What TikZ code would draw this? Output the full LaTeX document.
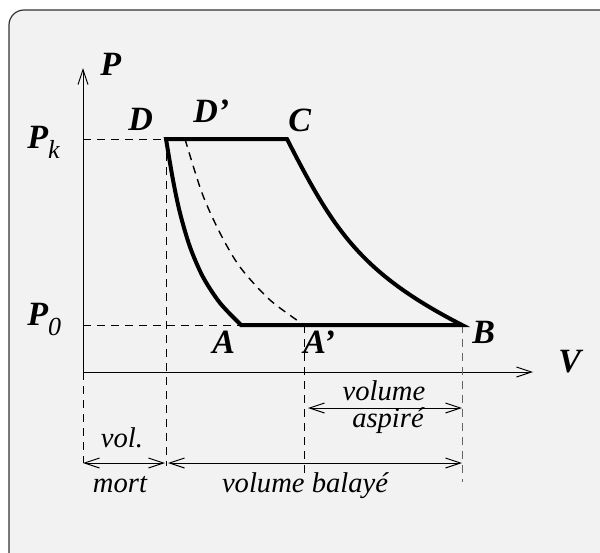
\documentclass[tikz,border=0pt]{standalone}
\usepackage{amsmath}
\usepackage{fontspec}
\setmainfont{Liberation Serif}[ItalicFont={Liberation Serif Italic}, BoldItalicFont={Liberation Serif Bold Italic}]
\usetikzlibrary{arrows.meta}
\definecolor{panel}{HTML}{F2F2F2}
\tikzset{
  pt/.style={font=\fontsize{17}{17}\selectfont\bfseries\itshape, inner sep=0pt, anchor=base west},
  note/.style={font=\fontsize{14.3}{15}\selectfont\itshape, inner sep=0pt, anchor=base},
  loopline/.style={line width=2pt, line join=miter},
  guide/.style={dash pattern=on 4pt off 3pt, line width=0.5pt},
  axis/.style={-{Straight Barb[length=7.5pt,width=5pt]}, line width=0.5pt},
  dim/.style={{Straight Barb[length=7.5pt,width=5pt]}-{Straight Barb[length=7.5pt,width=5pt]}, line width=0.5pt}
}
\newcommand{\sub}[1]{\raisebox{-5pt}{\fontsize{13}{13}\selectfont\mdseries #1}}

\begin{document}
\begin{tikzpicture}[x=0.5pt, y=-0.5pt]
\useasboundingbox (0,0) rectangle (600,552);
\clip (0,0) rectangle (600,552);
% frame
\filldraw[fill=panel, draw=black!80, line width=0.6pt, rounded corners=7.5pt] (9,10) rectangle (620,570);

% points of the cycle
\coordinate (O) at (83,372);
\coordinate (Ptip) at (83,68);
\coordinate (Vtip) at (533,372);
\coordinate (Pk) at (83,139);
\coordinate (P0) at (83,325);
\coordinate (D) at (166,139);
\coordinate (Dp) at (185,139);
\coordinate (C) at (287,139);
\coordinate (A) at (241,325);
\coordinate (Ap) at (304,325);
\coordinate (B) at (462,325);
\coordinate (Obot) at (83,463);
\coordinate (Dbot) at (166,466);
\coordinate (Apbot) at (304,473);
\coordinate (Bbot) at (462,482);

% axes
\draw[axis] (O) -- (Ptip);
\draw[axis] (O) -- (Vtip);

% guides
\draw[guide] (Pk) -- (D);
\draw[guide] (P0) -- (A);
\draw[guide] (O) -- (Obot);
\draw[guide] (D) -- (Dbot);
\draw[guide] (Ap) -- (Apbot);
\draw[guide, black!60] (B) -- (Bbot);

% cycle
\draw[loopline] (D) -- (C)
  .. controls (334,231) and (361,273) .. (B)
  -- (A)
  -- plot[smooth] coordinates {(A) (220,303) (203,277) (190,247) (180,213) (173,180) (D)}
  -- cycle;
\draw[guide, line width=0.7pt] plot[smooth] coordinates {(Dp) (202,193) (220,233) (240,267) (270,300) (Ap)};

% volumes
\draw[dim] (308,408) -- (B |- 0,408);
\draw[dim] (Obot) -- (165,463);
\draw[dim] (168,463) -- (B |- Obot);

% labels
\node[pt] (lP) at (100,75) {P};
\node[pt] (lPk) at (27,148) {P\sub{k}};
\node[pt] (lP0) at (27,325) {P\sub{0}};
\node[pt] (lD) at (128,130) {D};
\node[pt] (lDp) at (193,122) {D’};
\node[pt] (lC) at (288,131) {C};
\node[pt] (lA) at (212,353) {A};
\node[pt] (lAp) at (303,353) {A’};
\node[pt] (lB) at (472,343) {B};
\node[pt] (lV) at (558,372) {V};
\node[note] (lvolume) at (384,400) {volume};
\node[note] (laspire) at (388,427) {aspiré};
\node[note] (lvol) at (122,447) {vol.};
\node[note] (lmort) at (120,492) {mort};
\node[note] (lbalaye) at (305,492) {volume balayé};
\end{tikzpicture}
\end{document}
